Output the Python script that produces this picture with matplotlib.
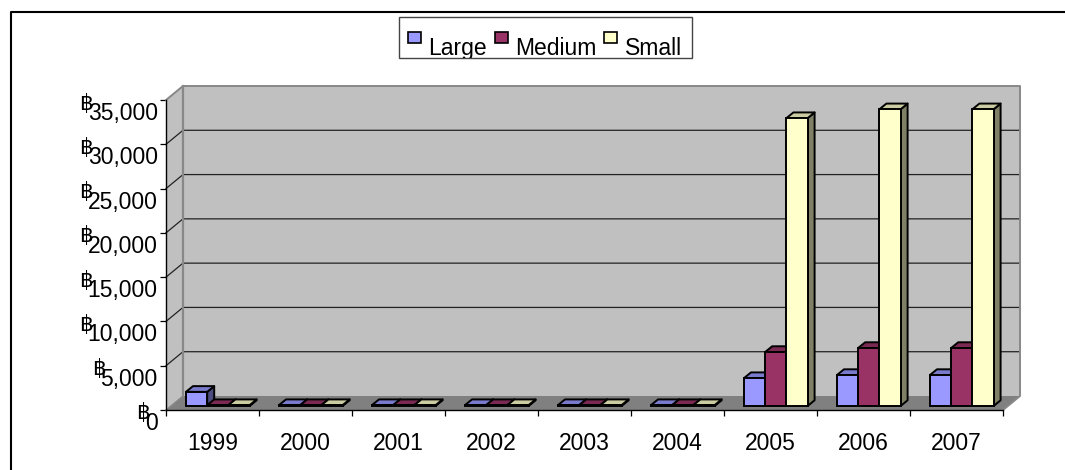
import matplotlib
matplotlib.use("Agg")
import matplotlib.pyplot as plt
from matplotlib.legend_handler import HandlerPatch
from matplotlib.lines import Line2D
from matplotlib.patches import Patch, Polygon, Rectangle
from matplotlib.transforms import ScaledTranslation

years = ["1999", "2000", "2001", "2002", "2003", "2004", "2005", "2006", "2007"]
large = [1600, 100, 100, 100, 100, 100, 3150, 3500, 3500]
medium = [100, 100, 100, 100, 100, 100, 6100, 6550, 6550]
small = [100, 100, 100, 100, 100, 100, 32500, 33500, 33500]
y_ticks = [0, 5000, 10000, 15000, 20000, 25000, 30000, 35000]
series_names = ["Large", "Medium", "Small"]

W, H = 1065, 470
plt.rcParams["font.family"] = ["Liberation Sans", "DejaVu Sans"]
fig = plt.figure(figsize=(W / 100, H / 100), dpi=100, facecolor="white")
ax = fig.add_axes([166 / W, (H - 410) / H, 837 / W, 310 / H])
ax.set_xlim(0, 9)
ax.set_ylim(0, 35000)
ax.patch.set_visible(False)

PX_X = 9 / 837
PX_Y = 35000 / 310
WALL_DX, WALL_DY = 17 * PX_X, 14 * PX_Y
BAR_DX, BAR_DY = 7 * PX_X, 5.7 * PX_Y
GROUP_START, BAR_W = 20 * PX_X, 21.2 * PX_X
BASE = 4 * PX_Y
n = len(years)

# room walls and floor
ax.add_patch(Polygon([(0, 0), (WALL_DX, WALL_DY), (WALL_DX, 35000 + WALL_DY), (0, 35000)],
                     fc="#C0C0C0", ec="none", zorder=1, clip_on=False))
ax.add_patch(Polygon([(WALL_DX, WALL_DY), (n + WALL_DX, WALL_DY), (n + WALL_DX, 35000 + WALL_DY),
                      (WALL_DX, 35000 + WALL_DY)], fc="#C0C0C0", ec="none", zorder=1, clip_on=False))
ax.add_patch(Polygon([(0, 0), (n, 0), (n + WALL_DX, WALL_DY), (WALL_DX, WALL_DY)],
                     fc="#808080", ec="none", zorder=1.1, clip_on=False))
for v in y_ticks[1:-1]:
    ax.plot([0, WALL_DX, n + WALL_DX], [v, v + WALL_DY, v + WALL_DY], color="#222222", lw=0.9,
            zorder=1.5, clip_on=False)
ax.plot([0, WALL_DX, n + WALL_DX, n + WALL_DX, n], [35000, 35000 + WALL_DY, 35000 + WALL_DY, WALL_DY, 0],
        color="#888888", lw=1.4, zorder=1.6, clip_on=False)
ax.plot([WALL_DX, WALL_DX], [WALL_DY, 35000 + WALL_DY], color="#888888", lw=1.6, zorder=1.6, clip_on=False)
ax.plot([0, WALL_DX], [0, WALL_DY], color="#888888", lw=1.0, zorder=1.6, clip_on=False)

# bars
series = [large, medium, small]
fronts = ["#9999FF", "#993366", "#FFFFCC"]
tops = ["#7A7ACC", "#7A2952", "#CCCCA3"]
sides = ["#4C4C80", "#4D1A33", "#808066"]
edge = dict(ec="black", lw=1.4, joinstyle="round", clip_on=False)
for j, vals in enumerate(series):
    z = 3 + j
    for i, v in enumerate(vals):
        x0 = i + GROUP_START + j * BAR_W
        x1 = x0 + BAR_W
        top = BASE + v
        ax.add_patch(Polygon([(x1, BASE), (x1 + BAR_DX, BASE + BAR_DY), (x1 + BAR_DX, top + BAR_DY), (x1, top)],
                             fc=sides[j], zorder=z, **edge))
        ax.add_patch(Polygon([(x0, top), (x1, top), (x1 + BAR_DX, top + BAR_DY), (x0 + BAR_DX, top + BAR_DY)],
                             fc=tops[j], zorder=z, **edge))
    ax.bar([i + GROUP_START + j * BAR_W for i in range(n)], vals, BAR_W, bottom=BASE, align="edge",
           color=fronts[j], zorder=z + 0.1, clip_on=False, ec="black", lw=1.4)
ax.set_xlim(0, 9)
ax.set_ylim(0, 35000)

# axes
for s in ("top", "right"):
    ax.spines[s].set_visible(False)
for s in ("left", "bottom"):
    ax.spines[s].set_linewidth(1.0)
    ax.spines[s].set_zorder(2)
ax.set_xticks(range(n + 1))
ax.set_xticklabels([])
ax.set_xticks([i + 0.5 for i in range(n)], labels=years, minor=True)
ax.tick_params(axis="x", which="major", length=4, width=0.9)
ax.tick_params(axis="x", which="minor", length=0, pad=16, labelsize=16.5)
ax.set_yticks(y_ticks, labels=[f"{v:,}" for v in y_ticks])
ax.tick_params(axis="y", length=4, width=0.9, pad=2, labelsize=16.5)
shift = ScaledTranslation(0, -11 / 100, fig.dpi_scale_trans)
for lab in ax.get_yticklabels():
    lab.set_transform(lab.get_transform() + shift)
    ax.annotate("\u0E3F", xy=(0, 0.5), xycoords=lab, xytext=(5, 10), textcoords="offset pixels",
                ha="right", va="center", fontsize=15.5, family=["DejaVu Sans"], color="black",
                annotation_clip=False)

# outer border: left and top only, the rest is cropped off
fig.add_artist(Line2D([11 / W, 11 / W, 1], [0, (H - 12) / H, (H - 12) / H], color="black", lw=1.5))

# legend: frame drawn separately since the reference's text sits low in it and is cut by the frame
frame = Rectangle((399 / W, 1 - 58 / H), 293 / W, 41 / H, transform=fig.transFigure,
                  fc="white", ec="#444444", lw=1.0)
fig.add_artist(frame)

class Raised(HandlerPatch):
    def create_artists(self, legend, orig, xd, yd, width, height, fontsize, trans):
        return [Rectangle((0, 8.6), 9.4, 8, fc=orig.get_facecolor(), ec="black", lw=1.2, transform=trans)]

handles = [Patch(fc=c, ec="black", label=s) for c, s in zip(fronts, series_names)]
leg = fig.legend(handles=handles, loc="lower left", bbox_to_anchor=(408 / W, 1 - 60 / H), ncol=3,
                 fontsize=16.5, frameon=False, borderpad=0, borderaxespad=0, handlelength=0.568,
                 handletextpad=0.33, columnspacing=0.33, labelspacing=0,
                 handler_map={Patch: Raised()})
for t in leg.get_texts():
    t.set_clip_box(frame.get_window_extent())
    t.set_clip_on(True)

fig.savefig("out.png", dpi=100, facecolor="white")
